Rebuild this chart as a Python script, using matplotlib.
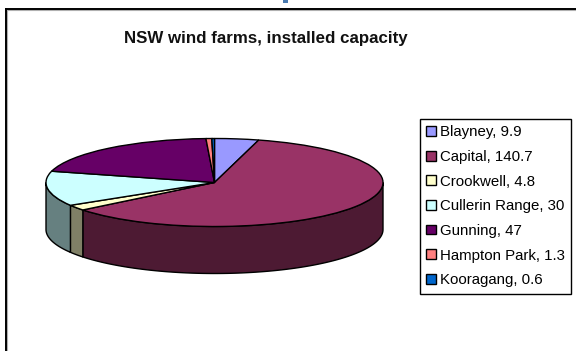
#!/usr/bin/env python3
# -*- coding: utf-8 -*-
"""
NSW wind farms, installed capacity
3D style pie, sides are built by hand below the pie wedges
"""
import numpy as np
import matplotlib
matplotlib.use("Agg")
import matplotlib.pyplot as plt
from matplotlib.transforms import Affine2D

# Data
farms    = ["Blayney", "Capital", "Crookwell", "Cullerin Range", "Gunning", "Hampton Park", "Kooragang"]
capacity = [9.9, 140.7, 4.8, 30, 47, 1.3, 0.6]
labels   = ["Blayney, 9.9", "Capital, 140.7", "Crookwell, 4.8", "Cullerin Range, 30",
            "Gunning, 47", "Hampton Park, 1.3", "Kooragang, 0.6"]
colors   = ["#9999FF", "#993366", "#FFFFCC", "#CCFFFF", "#660066", "#FF8080", "#0066CC"]
side_colors = ["#4D4D80", "#4D1A33", "#808066", "#668080", "#330033", "#804040", "#003366"]

# Pie geometry in pixels
cx, cy = 214.5, 182.5
rx, ry = 168.5, 44
depth  = 47

plt.rcParams["font.family"] = ["Liberation Sans", "DejaVu Sans"]

fig = plt.figure(figsize=(5.76, 3.51), dpi=100)
ax = fig.add_axes([0, 0, 1, 1])

# sides first, only the front half (90 to 270 deg clockwise from the top) is visible
cum = np.cumsum([0] + capacity) / sum(capacity) * 360
for i in range(len(capacity)):
    a0, a1 = max(cum[i], 90), min(cum[i + 1], 270)
    if a1 <= a0:
        continue
    th = np.radians(np.linspace(a0, a1, 120))
    x = cx + rx * np.sin(th)
    y = cy - ry * np.cos(th)
    ax.fill(np.r_[x, x[::-1]], np.r_[y, y[::-1] + depth],
            facecolor=side_colors[i], edgecolor="black", linewidth=1.0, zorder=2)

# top of the pie: normal pie squashed into an ellipse
wedges, _ = ax.pie(capacity, colors=colors, startangle=90, counterclock=False,
                   wedgeprops={"edgecolor": "black", "linewidth": 1.0})
squash = Affine2D().scale(rx, -ry).translate(cx, cy) + ax.transData
for w in wedges:
    w.set_transform(squash)
    w.set_zorder(3)

ax.set_aspect("auto")
ax.set_xlim(0, 576)
ax.set_ylim(351, 0)
ax.axis("off")

# chart area border, top and left only
ax.plot([5.5, 576], [8.5, 8.5], color="black", linewidth=1.4, zorder=5)
ax.plot([5.5, 5.5], [8.5, 351], color="black", linewidth=1.4, zorder=5)
ax.plot([7, 576], [10, 10], color="#b0b0b0", linewidth=0.8, zorder=4)
ax.plot([7, 7], [10, 351], color="#b0b0b0", linewidth=0.8, zorder=4)
ax.fill_between([283, 288], 0, 2.5, color="#4A7AB0", linewidth=0, zorder=5)

ax.text(265.5, 38, "NSW wind farms, installed capacity", ha="center", va="center",
        fontsize=12.2, fontweight="bold", color="#111111")

leg = ax.legend(wedges, labels, loc="upper left", bbox_to_anchor=(420, 119),
                bbox_transform=ax.transData, fontsize=10.8, frameon=True, fancybox=False,
                edgecolor="black", framealpha=1, borderpad=0.42, labelspacing=0.71,
                handlelength=0.62, handleheight=0.62, handletextpad=0.27, borderaxespad=0)
leg.get_frame().set_linewidth(1.0)

fig.savefig("out.png", dpi=100)
